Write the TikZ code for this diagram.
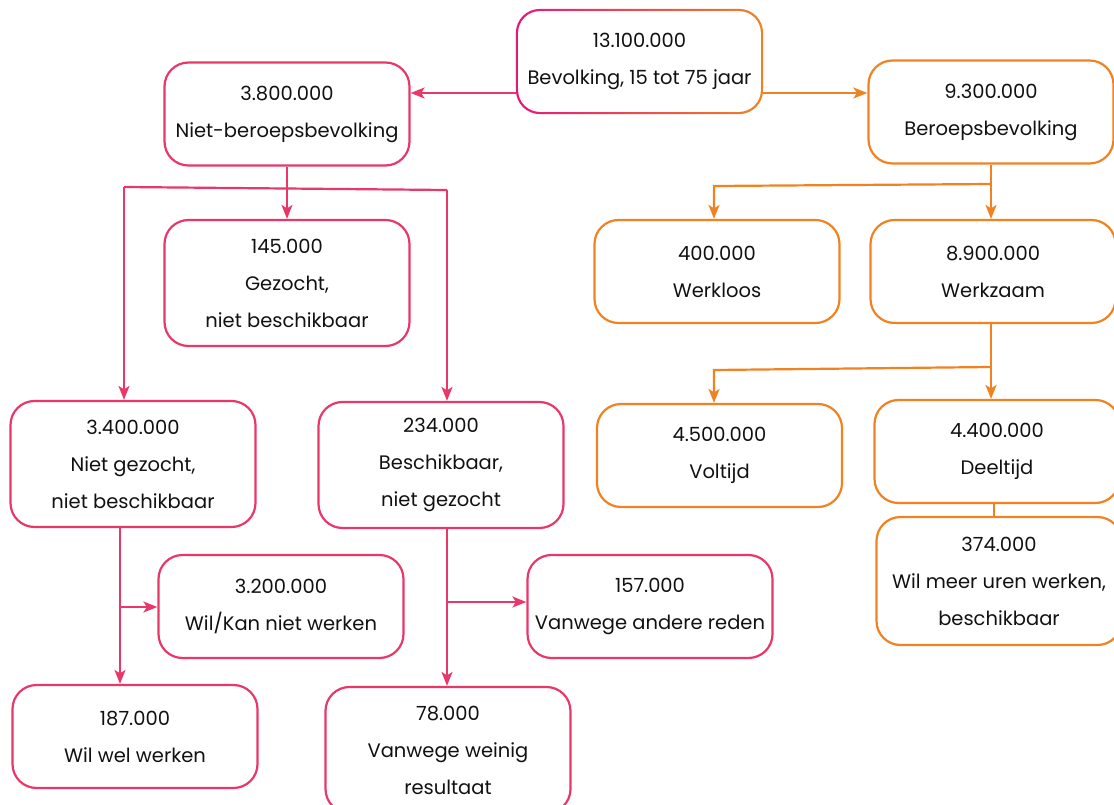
\documentclass[tikz,border=0pt]{standalone}
\usepackage{fontspec}
\setmainfont{Poppins}
\usetikzlibrary{arrows.meta}
\usetikzlibrary{backgrounds}
\definecolor{roze}{HTML}{E8386A}
\definecolor{oranje}{HTML}{F08222}
\definecolor{fuchsia}{HTML}{E5177B}
\definecolor{tekst}{HTML}{111111}

\begin{document}
\begin{tikzpicture}[x=1pt, y=-1pt, >={Stealth[length=14pt, width=11pt, inset=3.5pt]}]
    \tikzset{
        blok/.style={rounded corners=24pt, line width=2.2pt, minimum width=245pt,
            minimum height=103pt, align=center, text=tekst,
            font=\fontsize{19.5}{37}\selectfont},
        rblok/.style={blok, draw=roze},
        oblok/.style={blok, draw=oranje},
        hoog/.style={minimum height=126pt},
        rlijn/.style={roze, line width=2.2pt},
        olijn/.style={oranje, line width=2.2pt}
    }
    \useasboundingbox (0,0) rectangle (1114,805);

    % bovenste blok
    \node [blok] (bev) at (639.5,61.5) {13.100.000\\Bevolking, 15 tot 75 jaar};
    \begin{scope}[on background layer]
        \shade [left color=fuchsia, right color=oranje, rounded corners=24pt] (bev.south west) rectangle (bev.north east);
        \fill [white, rounded corners=22pt] ([xshift=2.2pt, yshift=2.2pt]bev.south west) rectangle ([xshift=-2.2pt, yshift=-2.2pt]bev.north east);
    \end{scope}

    % niet-beroepsbevolking
    \node [rblok] (niet) at (287,114) {3.800.000\\Niet-beroepsbevolking};
    \node [rblok, hoog] (gezocht) at (287,283) {145.000\\Gezocht,\\niet beschikbaar};
    \node [rblok, hoog] (nietgez) at (133,464) {3.400.000\\Niet gezocht,\\niet beschikbaar};
    \node [rblok, hoog] (beschikb) at (441,465) {234.000\\Beschikbaar,\\niet gezocht};
    \node [rblok] (wilkan) at (281,606.5) {3.200.000\\Wil/Kan niet werken};
    \node [rblok] (andere) at (650,606.5) {157.000\\Vanwege andere reden};
    \node [rblok] (wilwel) at (135,736.5) {187.000\\Wil wel werken};
    \node [rblok, hoog] (weinig) at (448,750) {78.000\\Vanwege weinig\\resultaat};

    % beroepsbevolking
    \node [oblok] (beroeps) at (991,112) {9.300.000\\Beroepsbevolking};
    \node [oblok] (werkloos) at (717,271.5) {400.000\\Werkloos};
    \node [oblok] (werkzaam) at (993,271.5) {8.900.000\\Werkzaam};
    \node [oblok] (voltijd) at (719.5,455.5) {4.500.000\\Voltijd};
    \node [oblok] (deeltijd) at (997,451.5) {4.400.000\\Deeltijd};
    \node [oblok, minimum height=128pt] (wilmeer) at (999,581) {374.000\\Wil meer uren werken,\\beschikbaar};

    % verbindingen
    \coordinate (a) at (bev.west |- 0,93);
    \coordinate (b) at (bev.east |- 0,93);
    \draw [rlijn, ->] (a) -- (a -| niet.east);
    \draw [olijn, ->] (b) -- (b -| beroeps.west);

    \draw [rlijn, ->] (niet.south) -- (gezocht.north);
    \coordinate (s1) at (124,187);
    \coordinate (s2) at (447,190);
    \draw [rlijn] (s1) -- (s2);
    \draw [rlijn, ->] (s1) -- (s1 |- nietgez.north);
    \draw [rlijn, ->] (s2) -- (s2 |- beschikb.north);

    \coordinate (v1) at (120,528);
    \draw [rlijn, ->] (v1) -- (v1 |- wilwel.north);
    \draw [rlijn, ->] (v1 |- 0,607) -- (wilkan.west |- 0,607);
    \coordinate (v2) at (447,528);
    \draw [rlijn, ->] (v2) -- (v2 |- weinig.north);
    \draw [rlijn, ->] (v2 |- 0,602) -- (andere.west |- 0,602);

    \coordinate (b1) at (991,184);
    \draw [olijn, ->] (beroeps.south) -- (beroeps.south |- werkzaam.north);
    \draw [olijn, ->] (b1) -- (714,186) -- (714,0 |- werkloos.north);
    \coordinate (b2) at (991,367);
    \draw [olijn, ->] (b2 |- werkzaam.south) -- (b2 |- deeltijd.north);
    \draw [olijn, ->] (b2) -- (714,370) -- (714,0 |- voltijd.north);
    \draw [olijn] (994,0 |- deeltijd.south) -- (994,0 |- wilmeer.north);
\end{tikzpicture}
\end{document}
